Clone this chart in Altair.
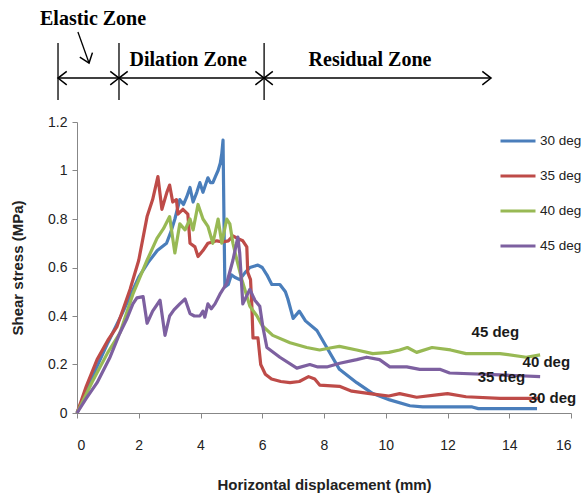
import altair as alt
import pandas as pd

# ---- shear stress vs horizontal displacement, one curve per inclination ----
series_names = ["30 deg", "35 deg", "40 deg", "45 deg"]
series_colors = ["#4A7EBB", "#BE4B48", "#98B954", "#7D60A0"]

x30 = [0, 0.5, 1.0, 1.5, 2.0, 2.3, 2.6, 2.9, 3.05, 3.17, 3.33, 3.45, 3.55, 3.66, 3.76,
       3.88, 3.98, 4.08, 4.16, 4.24, 4.32, 4.4, 4.5, 4.57, 4.64, 4.69, 4.73, 4.76, 4.79, 4.9,
       5.0, 5.11, 5.27, 5.45, 5.6, 5.86, 6.0, 6.15, 6.31, 6.57, 6.75, 6.83, 7.0, 7.2, 7.4,
       7.77, 8.09, 8.5, 9.06, 9.58, 10.13, 10.78, 11.2, 12.8, 13.0, 14.9]
y30 = [0, 0.15, 0.29, 0.42, 0.56, 0.62, 0.67, 0.70, 0.75, 0.80, 0.88, 0.86, 0.89, 0.93, 0.87,
       0.91, 0.95, 0.91, 0.94, 0.97, 0.95, 0.95, 0.98, 1.0, 1.03, 1.07, 1.125, 0.80, 0.52, 0.53,
       0.57, 0.56, 0.55, 0.58, 0.60, 0.61, 0.60, 0.57, 0.53, 0.53, 0.50, 0.47, 0.39, 0.42, 0.38,
       0.34, 0.27, 0.18, 0.125, 0.08, 0.054, 0.03, 0.025, 0.025, 0.018, 0.018]

x35 = [0, 0.3, 0.65, 1.0, 1.29, 1.5, 1.72, 2.0, 2.27, 2.45, 2.62, 2.75, 2.91, 3.0, 3.1,
       3.22, 3.27, 3.43, 3.59, 3.66, 3.82, 3.92, 4.08, 4.24, 4.53, 4.72, 4.9, 5.05, 5.2, 5.37,
       5.5, 5.53, 5.62, 5.66, 5.7, 5.86, 5.95, 6.1, 6.3, 6.6, 6.9, 7.2, 7.5, 7.7, 7.86,
       8.5, 8.9, 9.6, 10.1, 10.45, 11.0, 11.65, 12.0, 12.6, 13.7, 15.0]
y35 = [0, 0.11, 0.22, 0.30, 0.355, 0.43, 0.51, 0.63, 0.81, 0.88, 0.975, 0.84, 0.91, 0.94, 0.87,
       0.88, 0.82, 0.84, 0.82, 0.70, 0.685, 0.645, 0.67, 0.70, 0.71, 0.705, 0.71, 0.73, 0.72, 0.71,
       0.685, 0.58, 0.55, 0.45, 0.31, 0.31, 0.20, 0.16, 0.14, 0.13, 0.125, 0.13, 0.15, 0.14, 0.115,
       0.11, 0.09, 0.078, 0.07, 0.08, 0.065, 0.075, 0.08, 0.067, 0.06, 0.06]

x40 = [0, 0.5, 1.0, 1.39, 1.81, 2.27, 2.59, 2.8, 3.0, 3.1, 3.17, 3.33, 3.5, 3.66, 3.76,
       3.92, 4.08, 4.24, 4.4, 4.57, 4.69, 4.85, 4.95, 5.05, 5.18, 5.34, 5.6, 5.83, 6.0, 6.34,
       6.9, 7.44, 7.86, 8.28, 8.5, 9.06, 9.58, 10.1, 10.45, 10.7, 11.0, 11.5, 12.1, 12.6, 13.7,
       14.55, 15.0]
y40 = [0, 0.13, 0.25, 0.33, 0.49, 0.63, 0.72, 0.76, 0.81, 0.72, 0.66, 0.78, 0.755, 0.80, 0.755,
       0.86, 0.80, 0.77, 0.70, 0.80, 0.70, 0.80, 0.78, 0.70, 0.63, 0.55, 0.44, 0.40, 0.36, 0.32,
       0.29, 0.27, 0.26, 0.27, 0.275, 0.26, 0.245, 0.25, 0.26, 0.27, 0.25, 0.27, 0.26, 0.245, 0.245,
       0.23, 0.24]

x45 = [0, 0.3, 0.65, 1.07, 1.39, 1.62, 1.81, 1.94, 2.14, 2.27, 2.45, 2.69, 2.85, 3.0, 3.14,
       3.33, 3.5, 3.66, 3.8, 3.98, 4.08, 4.14, 4.24, 4.35, 4.47, 4.63, 4.85, 5.05, 5.21, 5.27,
       5.37, 5.6, 5.76, 5.92, 6.02, 6.15, 6.57, 7.12, 7.54, 7.8, 8.09, 8.51, 9.06, 9.38, 9.8,
       10.13, 10.68, 11.1, 11.75, 12.07, 13.7, 15.0]
y45 = [0, 0.06, 0.125, 0.23, 0.33, 0.39, 0.45, 0.475, 0.48, 0.37, 0.42, 0.465, 0.32, 0.40, 0.425,
       0.45, 0.47, 0.41, 0.40, 0.40, 0.42, 0.395, 0.45, 0.43, 0.45, 0.49, 0.535, 0.63, 0.725, 0.66,
       0.45, 0.51, 0.465, 0.44, 0.355, 0.27, 0.23, 0.185, 0.20, 0.19, 0.19, 0.205, 0.22, 0.23, 0.22,
       0.19, 0.19, 0.18, 0.18, 0.165, 0.157, 0.15]

x_ticks = [0, 2, 4, 6, 8, 10, 12, 14, 16]
y_ticks = [0, 0.2, 0.4, 0.6, 0.8, 1.0, 1.2]

# end-of-curve labels
end_labels = ["45 deg", "40 deg", "35 deg", "30 deg"]
end_label_x = [13.55, 15.2, 13.75, 15.4]
end_label_y = [0.335, 0.21, 0.15, 0.062]

# zone markers drawn above the plot
zone_bounds = [-0.615, 1.36, 6.06]
zone_arrow_start = [-0.615, 1.36, 6.06]
zone_arrow_end = [1.36, 6.06, 13.41]
zone_names = ["Elastic Zone", "Dilation Zone", "Residual Zone"]
zone_name_x = [0.52, 3.6, 9.49]
zone_name_y = [1.625, 1.455, 1.455]
arrow_level = 1.381
bound_top, bound_bottom = 1.526, 1.291
pointer_from = (0.03, 1.571)
pointer_to = (0.39, 1.443)

FONT = "Liberation Sans, sans-serif"

rows = []
for name, xs, ys in zip(series_names, [x30, x35, x40, x45], [y30, y35, y40, y45]):
    for i, (xv, yv) in enumerate(zip(xs, ys)):
        rows.append({"series": name, "disp": xv, "stress": yv, "idx": i})
curves = pd.DataFrame(rows)

x_scale = alt.Scale(domain=[0, 16], nice=False, zero=False)
y_scale = alt.Scale(domain=[0, 1.2], nice=False)

lines = alt.Chart(curves).mark_line(strokeWidth=3.2, strokeJoin="round").encode(
    x=alt.X("disp:Q", scale=x_scale,
            axis=alt.Axis(values=x_ticks, title="Horizontal displacement (mm)",
                          labelPadding=20, titlePadding=25, tickSize=5)),
    y=alt.Y("stress:Q", scale=y_scale,
            axis=alt.Axis(values=y_ticks, format="~g", title="Shear stress (MPa)",
                          labelPadding=5, titlePadding=22, tickSize=5)),
    color=alt.Color("series:N",
                    scale=alt.Scale(domain=series_names, range=series_colors),
                    legend=alt.Legend(title=None, orient="none", legendX=422, legendY=0,
                                      symbolType="stroke", symbolSize=1225,
                                      symbolStrokeWidth=3, labelFont=FONT,
                                      labelFontSize=13.5, labelColor="#222222",
                                      labelOffset=3, rowPadding=9, padding=0)),
    order="idx:Q",
)

labels_df = pd.DataFrame({"t": end_labels, "x": end_label_x, "y": end_label_y})
end_text = alt.Chart(labels_df).mark_text(
    font=FONT, fontWeight="bold", fontSize=15, color="#1a1a1a", align="center", baseline="middle"
).encode(x="x:Q", y="y:Q", text="t:N")

bounds_df = pd.DataFrame({"x": zone_bounds, "y": [bound_top] * 3, "y2": [bound_bottom] * 3})
bounds = alt.Chart(bounds_df).mark_rule(color="black", strokeWidth=1.3).encode(
    x="x:Q", y="y:Q", y2="y2:Q")

spans_df = pd.DataFrame({"x": zone_arrow_start, "x2": zone_arrow_end, "y": [arrow_level] * 3})
spans = alt.Chart(spans_df).mark_rule(color="black", strokeWidth=1.5).encode(
    x="x:Q", x2="x2:Q", y="y:Q")

# chevron arrowheads (tip at the origin, opening to the left; rotated by angle)
heads_df = pd.DataFrame({
    "x": [-0.615, 1.36, 1.36, 6.06, 6.06, 13.41, pointer_to[0]],
    "y": [arrow_level] * 6 + [pointer_to[1]],
    "ang": [180, 0, 180, 0, 180, 0, 70.5],
})
heads = alt.Chart(heads_df).mark_point(
    shape="M-1.3,-1L0,0L-1.3,1", filled=False, color="black", strokeWidth=1.5,
    size=180, opacity=1
).encode(x="x:Q", y="y:Q", angle=alt.Angle("ang:Q", scale=None))

pointer_df = pd.DataFrame({"x": [pointer_from[0]], "y": [pointer_from[1]],
                           "x2": [pointer_to[0]], "y2": [pointer_to[1]]})
pointer = alt.Chart(pointer_df).mark_rule(color="black", strokeWidth=1.3).encode(
    x="x:Q", y="y:Q", x2="x2:Q", y2="y2:Q")

zones_df = pd.DataFrame({"t": zone_names, "x": zone_name_x, "y": zone_name_y})
zone_text = alt.Chart(zones_df).mark_text(
    font="Liberation Serif", fontWeight="bold", fontSize=20, color="black",
    align="center", baseline="middle"
).encode(x="x:Q", y="y:Q", text="t:N")

chart = alt.layer(lines, end_text, bounds, spans, heads, pointer, zone_text).properties(
    width=494, height=291,
    padding={"left": 77, "top": 122, "right": 11, "bottom": 83},
    autosize="none",
).configure_view(stroke=None).configure_axis(
    grid=False, domainColor="#878787", tickColor="#878787",
    labelFont=FONT, labelFontSize=14, labelColor="#222222",
    titleFont=FONT, titleFontSize=15, titleFontWeight="bold", titleColor="#222222",
)

chart.save("out.html", embed_options={"renderer": "svg", "actions": False})
